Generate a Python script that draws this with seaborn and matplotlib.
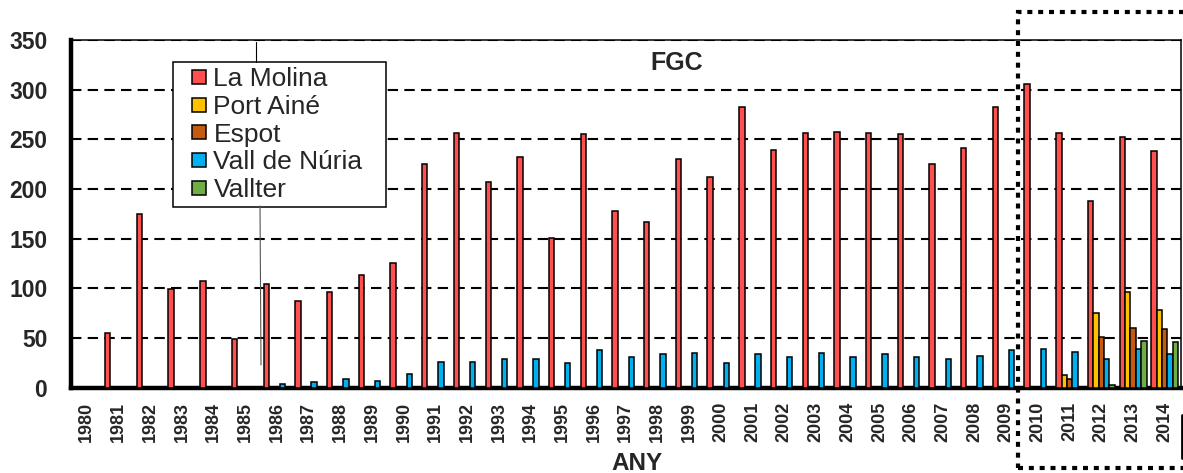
import matplotlib
matplotlib.use("Agg")
import matplotlib.pyplot as plt
from matplotlib.lines import Line2D
from matplotlib.patches import Rectangle
import seaborn as sns
import pandas as pd

# dades llegides del grafic (FGC, 1980-2014)
anys = [str(a) for a in range(1980, 2015)]
estacions = ["La Molina", "Port Ainé", "Espot", "Vall de Núria", "Vallter"]
colors = ["#FF5050", "#FFC000", "#C55A11", "#00B0F0", "#70AD47"]

la_molina = [0, 55, 175, 99, 108, 49, 105, 87, 96, 114,
             126, 225, 256, 207, 232, 151, 255, 178, 167, 230,
             212, 283, 239, 256, 257, 256, 255, 225, 241, 283,
             306, 256, 188, 252, 238]
port_aine = [0, 0, 0, 0, 0, 0, 0, 0, 0, 0,
             0, 0, 0, 0, 0, 0, 0, 0, 0, 0,
             0, 0, 0, 0, 0, 0, 0, 0, 0, 0,
             0, 13, 75, 96, 78]
espot = [0, 0, 0, 0, 0, 0, 0, 0, 0, 0,
         0, 0, 0, 0, 0, 0, 0, 0, 0, 0,
         0, 0, 0, 0, 0, 0, 0, 0, 0, 0,
         0, 9, 51, 60, 59]
vall_nuria = [0, 0, 0, 0, 0, 0, 4, 6, 9, 7,
              14, 26, 26, 29, 29, 25, 38, 31, 34, 35,
              25, 34, 31, 35, 31, 34, 31, 29, 32, 38,
              39, 36, 29, 39, 34]
vallter = [0, 0, 0, 0, 0, 0, 0, 0, 0, 0,
           0, 0, 0, 0, 0, 0, 0, 0, 0, 0,
           0, 0, 0, 0, 0, 0, 0, 0, 0, 0,
           0, 0, 3, 47, 46]

series = [la_molina, port_aine, espot, vall_nuria, vallter]
rows = []
for nom, vals in zip(estacions, series):
    for a, v in zip(anys, vals):
        rows.append({"any": a, "valor": v, "estacio": nom})
df = pd.DataFrame(rows)

sns.set_style("white")
plt.rcParams["font.family"] = ["Liberation Sans", "DejaVu Sans"]

fig = plt.figure(figsize=(11.83, 4.73), dpi=100)
ax = fig.add_axes([0.060, 0.180, 0.938, 0.7354])

sns.barplot(data=df, x="any", y="valor", hue="estacio", hue_order=estacions,
            order=anys, palette=colors, width=0.85, saturation=1,
            edgecolor="black", linewidth=1.1, errorbar=None, ax=ax, zorder=3,
            legend=False)

ax.set_xlim(-0.5, len(anys) - 0.5)
ax.set_ylim(0, 350)
ax.set_yticks(range(0, 351, 50))
ax.yaxis.grid(True, color="black", linestyle=(0, (5, 3)), linewidth=1.5, zorder=1)
ax.xaxis.grid(False)
ax.set_axisbelow(True)

# ticks: marques entre categories, etiquetes al centre
ax.set_xticks([i - 0.5 for i in range(len(anys) + 1)], minor=True)
ax.tick_params(axis="x", which="minor", length=5, width=3, direction="out", color="black")
ax.tick_params(axis="x", which="major", length=0, pad=10)
ax.set_xticklabels(anys, rotation=90, fontsize=13, fontweight="bold")
ax.tick_params(axis="y", length=7, width=3, direction="out", color="black", pad=10)
for t in ax.get_yticklabels():
    t.set_fontsize(16.5)
    t.set_fontweight("bold")

for s in ["left", "bottom"]:
    ax.spines[s].set_linewidth(3.2)
    ax.spines[s].set_color("black")
for s in ["top", "right"]:
    ax.spines[s].set_linewidth(1.1)
    ax.spines[s].set_color("black")

ax.set_ylabel("")
ax.set_xlabel("ANY", fontsize=17.5, fontweight="bold")
ax.xaxis.set_label_coords(0.51, -0.184)
ax.text(0.546, 0.934, "FGC", transform=ax.transAxes, ha="center", va="center",
        fontsize=18, fontweight="bold")

handles = [Line2D([], [], marker="s", markersize=10, markerfacecolor=c,
                  markeredgecolor="black", markeredgewidth=1.1, linestyle="none")
           for c in colors]
leg = ax.legend(handles, estacions, loc="upper left",
                bbox_to_anchor=(0.0915, 0.437, 0.192, 0.5), mode="expand",
                borderaxespad=0, fontsize=19, frameon=True, fancybox=False,
                framealpha=1, edgecolor="black", handlelength=1.64,
                handletextpad=-0.29, labelspacing=0.14, borderpad=0.2)
leg.get_frame().set_linewidth(1.1)
leg.set_zorder(5)

# linies guia de la llegenda
W, H = 1183, 473
fig.add_artist(Line2D([256 / W, 256 / W], [1 - 42 / H, 1 - 62 / H], color="black", lw=0.8))
fig.add_artist(Line2D([260 / W, 261 / W], [1 - 206 / H, 1 - 365 / H], color="#555555", lw=0.8))

# requadre puntejat 2010-2014
fig.add_artist(Rectangle((1018 / W, 5 / H), 0.2, (468 - 12) / H, transform=fig.transFigure,
                         fill=False, edgecolor="black", lw=3, linestyle=(0, (1.2, 1.4)),
                         clip_on=False))
fig.add_artist(Line2D([1182 / W, 1182 / W], [1 - 415 / H, 1 - 458 / H], color="black", lw=2))

plt.savefig("out.png", dpi=100)
plt.close()
